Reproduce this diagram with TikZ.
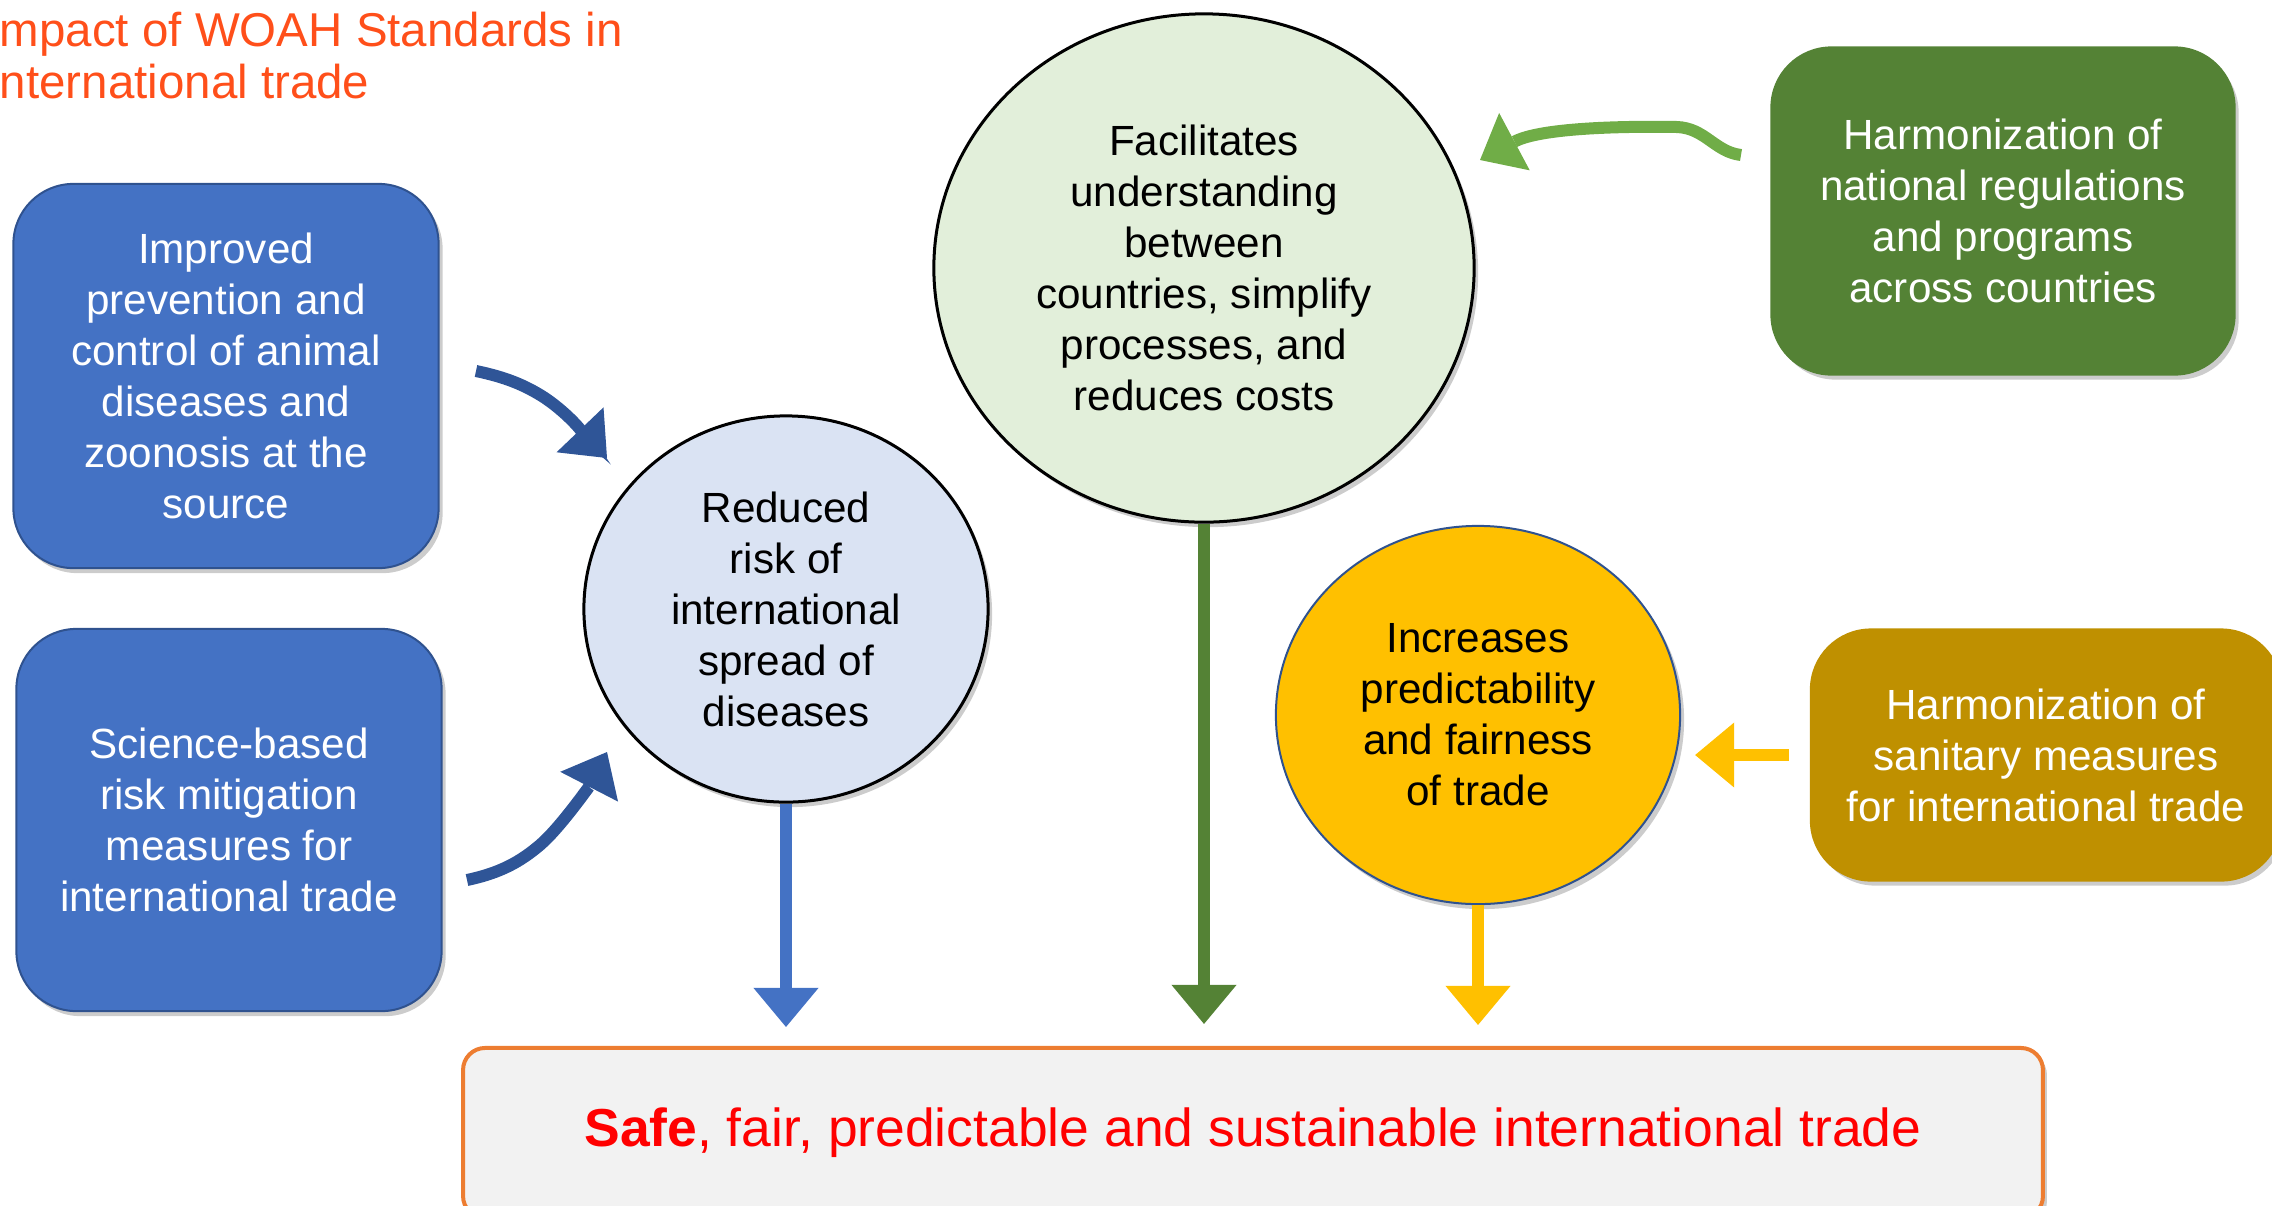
\documentclass[tikz,border=0pt]{standalone}
\usepackage{fontspec}
\setmainfont{Liberation Sans}
\usepackage{tikz}
\usetikzlibrary{shapes.geometric,arrows.meta,shadows}

\definecolor{boxblue}{HTML}{4472C4}
\definecolor{edgeblue}{HTML}{2F528F}
\definecolor{arrowblue}{HTML}{2F5597}
\definecolor{boxgreen}{HTML}{548235}
\definecolor{arrowgreen}{HTML}{70AD47}
\definecolor{boxgold}{HTML}{BF9000}
\definecolor{sunny}{HTML}{FFC000}
\definecolor{paleblue}{HTML}{DAE3F3}
\definecolor{palegreen}{HTML}{E2EFDA}
\definecolor{titleorange}{HTML}{FF4F1A}
\definecolor{frameorange}{HTML}{ED7D31}

\begin{document}
\begin{tikzpicture}[x=0.01cm, y=-0.01cm,
	txt/.style={font=\fontsize{12}{14.5}\selectfont, align=center, inner sep=0pt},
	shade/.style={drop shadow={shadow xshift=0.04cm, shadow yshift=-0.05cm, fill=black, opacity=0.2}},
	card/.style={txt, shade, rectangle, rounded corners=0.6cm, text=white, line width=0.02cm},
	bubble/.style={txt, shade, ellipse, line width=0.03cm},
	fat/.style={line width=0.12cm, -{Triangle[length=0.39cm, width=0.65cm, line width=0pt]}}
]
\useasboundingbox (0,0) rectangle (2272,1205);

\node[anchor=north west, inner sep=0pt, align=left, text=titleorange, font=\fontsize{13.5}{14.8}\selectfont] (title) at (-14,11) {Impact of WOAH Standards in\\International trade};

\node[card, fill=boxblue, draw=edgeblue, minimum width=4.25cm, minimum height=3.84cm] (prevent) at (226,376) {Improved\\prevention and\\control of animal\\diseases and\\zoonosis at the\\source};
\node[card, fill=boxblue, draw=edgeblue, minimum width=4.25cm, minimum height=3.82cm] (science) at (229,820) {Science-based\\risk mitigation\\measures for\\international trade};
\node[card, fill=boxgreen, draw=boxgreen, minimum width=4.63cm, minimum height=3.27cm] (harmnat) at (2003,211) {Harmonization of\\national regulations\\and programs\\across countries};
\node[card, fill=boxgold, draw=boxgold, minimum width=4.70cm, minimum height=2.51cm] (harmsan) at (2046,755) {Harmonization of\\sanitary measures\\for international trade};

\node[bubble, fill=paleblue, draw=black, minimum width=4.04cm, minimum height=3.86cm] (risk) at (786,609) {Reduced\\risk of\\international\\spread of\\diseases};
\node[bubble, fill=palegreen, draw=black, minimum width=5.40cm, minimum height=5.08cm] (facil) at (1204,268) {Facilitates\\understanding\\between\\countries, simplify\\processes, and\\reduces costs};
\node[bubble, fill=sunny, draw=edgeblue, line width=0.02cm, minimum width=4.04cm, minimum height=3.78cm] (pred) at (1478,715) {Increases\\predictability\\and fairness\\of trade};

\node[txt, shade, rectangle, rounded corners=0.22cm, fill=black!5, draw=frameorange, line width=0.04cm, minimum width=15.79cm, minimum height=1.7cm, text=red, font=\fontsize{15.2}{18}\selectfont] (safe) at (1253,1133) {\textbf{Safe}, fair, predictable and sustainable international trade};

\coordinate (p1) at (476,371);
\coordinate (p2) at (607,458);
\coordinate (s1) at (467,880);
\coordinate (s2) at (607,752);
\coordinate (n1) at (1741,155);
\coordinate (n2) at (1480,160);

\draw[fat, arrowblue] (p1) .. controls (505,377) and (525,385) .. (545,398) .. controls (570,415) and (585,435) .. (p2);
\draw[fat, arrowblue] (s1) .. controls (500,873) and (520,862) .. (540,845) .. controls (560,828) and (590,785) .. (s2);
\draw[fat, arrowgreen] (n1) .. controls (1715,152) and (1705,128) .. (1677,127) .. controls (1620,126) and (1540,128) .. (n2);
\draw[fat, sunny, shorten <=0.21cm, shorten >=0.14cm] (harmsan.west) -- (harmsan.west -| pred.east);

\draw[fat, boxblue, shorten >=0.19cm] (risk.south) -- (risk.south |- safe.north);
\draw[fat, boxgreen, shorten >=0.22cm] (facil.south) -- (facil.south |- safe.north);
\draw[fat, sunny, shorten >=0.21cm] (pred.south) -- (pred.south |- safe.north);
\end{tikzpicture}
\end{document}
